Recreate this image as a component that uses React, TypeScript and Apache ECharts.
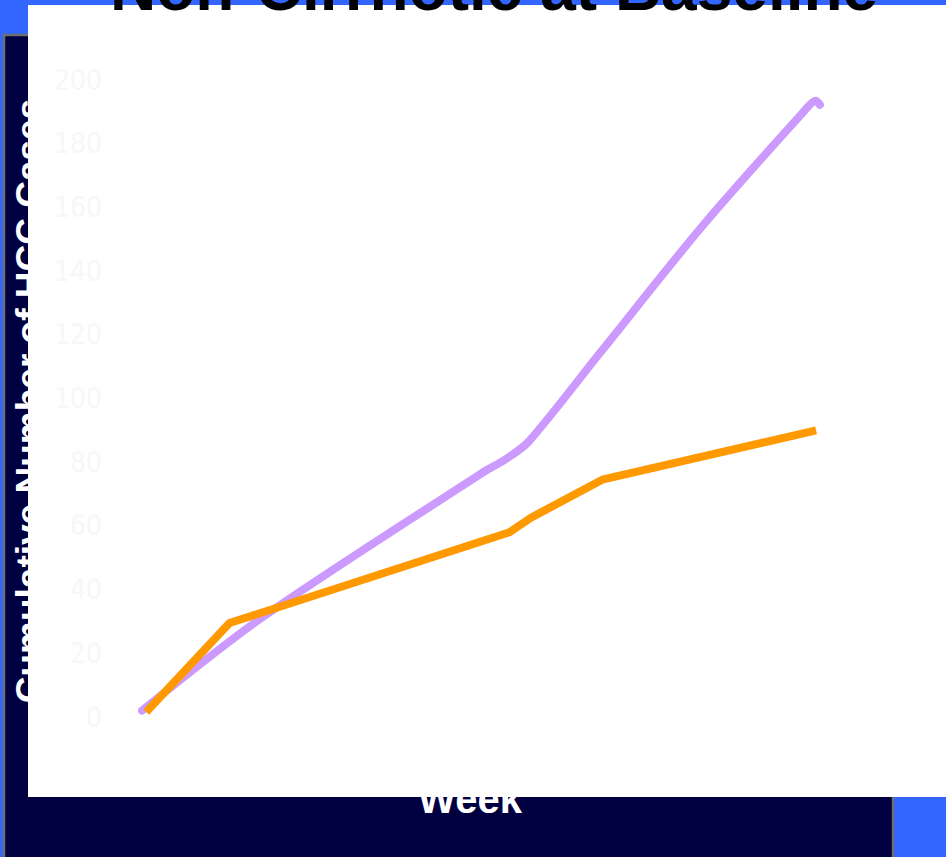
import React, { useEffect, useRef } from "react";
import * as echarts from "echarts";

const titleText = "Non-Cirrhotic at Baseline";
const yAxisName = "Cumulative Number of HCC Cases";
const xAxisName = "Week";

// y-axis range / ticks
const yMin = 0;
const yMax = 200;
const yInterval = 20;

// x range in weeks (no tick labels are shown in the reference)
const xMin = 0;
const xMax = 200;

// series: [week, cumulative cases]
const purpleName = "Group A";
const purpleData: [number, number][] = [
  [0, 2],
  [34, 31],
  [97, 76.5],
  [104, 81],
  [110.5, 86.5],
  [131, 114.5],
  [160, 154],
  [189, 190],
  [192.5, 193.5],
  [193.7, 192.2],
];

const orangeName = "Group B";
const orangeData: [number, number][] = [
  [1.2, 1.6],
  [25, 29.5],
  [105, 58],
  [111, 62.5],
  [131.5, 74.5],
  [192.6, 90],
];

const FONT = "'Liberation Sans', Arial, Helvetica, sans-serif";

export default function App() {
  const ref = useRef<HTMLDivElement>(null);

  useEffect(() => {
    if (!ref.current) return;
    const chart = echarts.init(ref.current, null, { renderer: "svg" });
    chart.setOption({
      animation: false,
      backgroundColor: "transparent",
      title: {
        text: titleText,
        left: 105,
        top: -49,
        padding: 5,
        textStyle: {
          fontSize: 64,
          fontWeight: "bold",
          color: "#000000",
          fontFamily: FONT,
          lineHeight: 64,
        },
      },
      grid: {
        left: 142,
        top: 80,
        width: 700,
        height: 637,
        containLabel: false,
      },
      xAxis: {
        type: "value",
        min: xMin,
        max: xMax,
        axisLine: { show: false },
        axisTick: { show: false },
        axisLabel: { show: false },
        splitLine: { show: false },
      },
      yAxis: {
        type: "value",
        min: yMin,
        max: yMax,
        interval: yInterval,
        axisLine: { show: false },
        axisTick: { show: false },
        splitLine: { show: false },
        axisLabel: {
          margin: 40,
          color: "#f7f7f7",
          fontSize: 28,
          fontFamily: "'Liberation Sans Narrow', 'DejaVu Sans Condensed', 'Liberation Sans', sans-serif",
        },
      },
      graphic: [
        {
          type: "rect",
          z: -100,
          silent: true,
          shape: { x: 0, y: 0, width: 946, height: 857 },
          style: { fill: "#3366ff" },
        },
        {
          type: "rect",
          z: -95,
          silent: true,
          shape: { x: 4, y: 35, width: 889, height: 840 },
          style: { fill: "#000040", stroke: "#6e6e6e", lineWidth: 2.5 },
        },
        {
          type: "text",
          z: -90,
          silent: true,
          x: 29,
          y: 401,
          rotation: Math.PI / 2,
          style: {
            text: yAxisName,
            fill: "#ffffff",
            font: `bold 37px ${FONT}`,
            align: "center",
            verticalAlign: "middle",
          },
        },
        {
          type: "text",
          z: -90,
          silent: true,
          x: 470,
          y: 799,
          style: {
            text: xAxisName,
            fill: "#ffffff",
            font: `bold 40px ${FONT}`,
            align: "center",
            verticalAlign: "middle",
          },
        },
        {
          type: "rect",
          z: -80,
          silent: true,
          shape: { x: 28, y: 5, width: 918, height: 792 },
          style: { fill: "#ffffff" },
        },
      ],
      series: [
        {
          name: purpleName,
          type: "line",
          data: purpleData,
          smooth: 0.3,
          symbol: "none",
          z: 2,
          lineStyle: { color: "#cc99ff", width: 8, cap: "round", join: "round" },
          itemStyle: { color: "#cc99ff" },
        },
        {
          name: orangeName,
          type: "line",
          data: orangeData,
          smooth: false,
          symbol: "none",
          z: 3,
          lineStyle: { color: "#ff9900", width: 8, cap: "butt", join: "round" },
          itemStyle: { color: "#ff9900" },
        },
      ],
    });
    return () => {
      chart.dispose();
    };
  }, []);

  return (
    <div
      ref={ref}
      style={{ position: "absolute", left: 0, top: 0, width: 946, height: 857 }}
    />
  );
}
